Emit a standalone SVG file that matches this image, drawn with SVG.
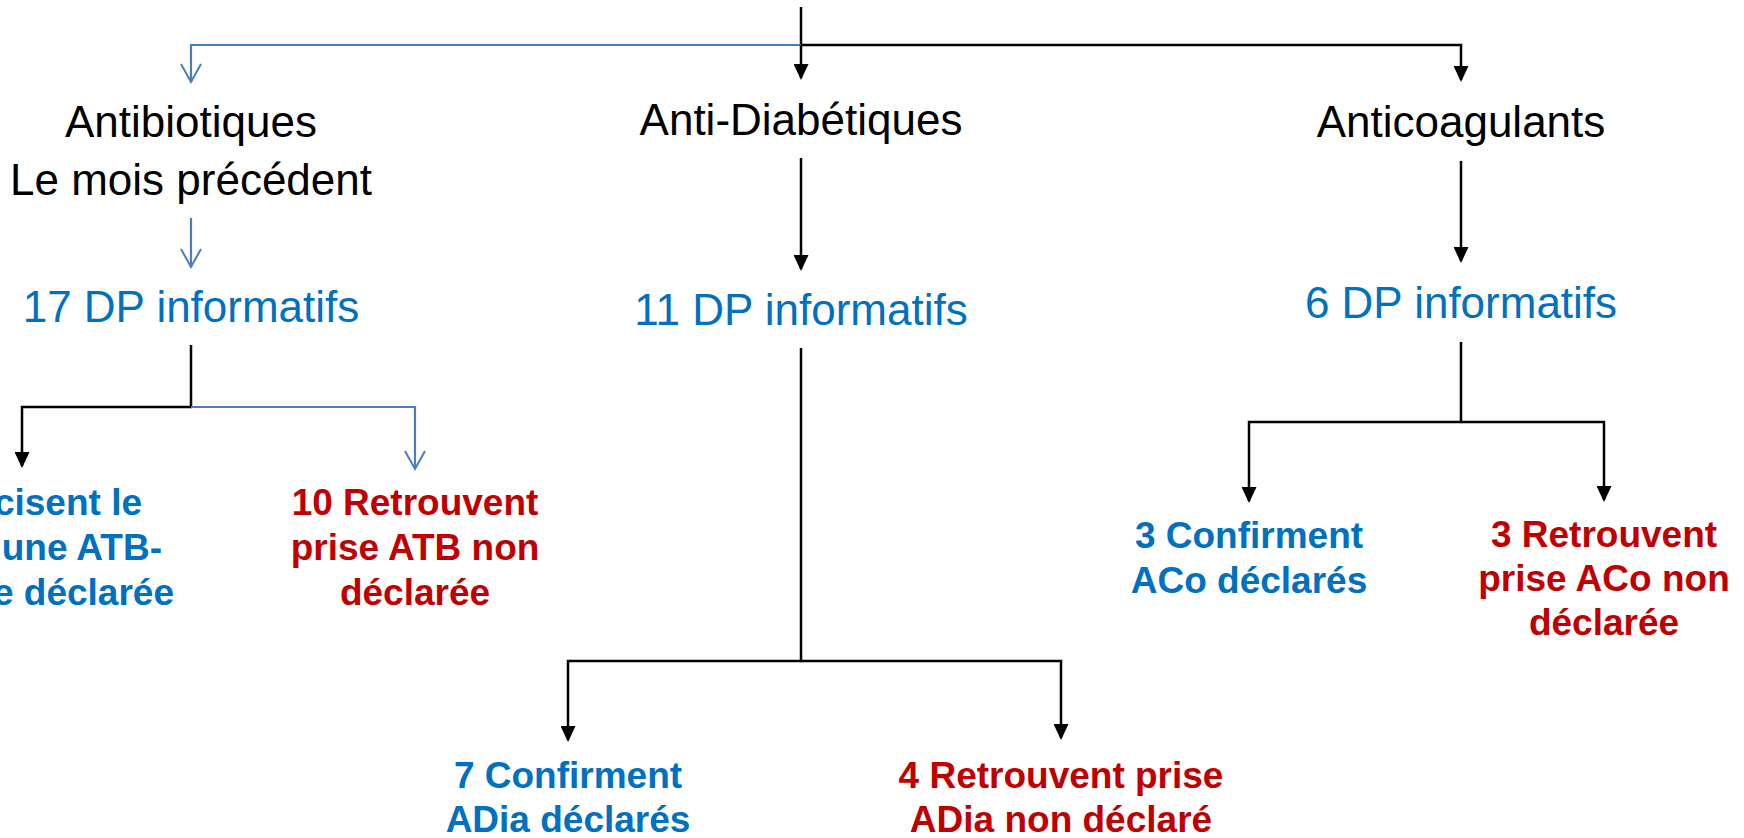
<svg xmlns="http://www.w3.org/2000/svg" width="1744" height="838" viewBox="0 0 1744 838">
<style>
.bg{fill:#ffffff}
.cat{font-family:"Liberation Sans",Arial,sans-serif;font-size:44px;fill:#000000;text-anchor:middle}
.dp{font-family:"Liberation Sans",Arial,sans-serif;font-size:44px;fill:#0070C0;text-anchor:middle}
.res{font-family:"Liberation Sans",Arial,sans-serif;font-size:37px;font-weight:bold;text-anchor:middle}
.blue{fill:#0070C0}
.red{fill:#C00000}
.k{fill:none;stroke:#000000;stroke-width:2.5}
.b{fill:none;stroke:#4A7EBB;stroke-width:2.2}
</style>
<defs>
<marker id="ah" markerUnits="userSpaceOnUse" markerWidth="17" markerHeight="15" refX="14" refY="7.5" orient="auto" viewBox="0 0 17 15">
<path d="M0,0 L16,7.5 L0,15 z" fill="#000000"/>
</marker>
<marker id="ov" markerUnits="userSpaceOnUse" markerWidth="22" markerHeight="24" refX="19" refY="11" orient="auto" viewBox="0 0 22 24">
<path d="M1,1 L19,11 L1,21" fill="none" stroke="#4A7EBB" stroke-width="2"/>
</marker>
</defs>
<rect class="bg" x="0" y="0" width="1744" height="838"/>
<g id="connectors">
<path class="k" d="M801,7 V45"/>
<path class="b" d="M801,45 H191 V82" marker-end="url(#ov)"/>
<path class="k" d="M801,45 V78" marker-end="url(#ah)"/>
<path class="k" d="M801,45 H1461 V80" marker-end="url(#ah)"/>
<path class="b" d="M191,218 V267" marker-end="url(#ov)"/>
<path class="k" d="M801,158 V269" marker-end="url(#ah)"/>
<path class="k" d="M1461,161 V261" marker-end="url(#ah)"/>
<path class="k" d="M191,345 V407 H22 V466" marker-end="url(#ah)"/>
<path class="b" d="M191,407 H415 V469" marker-end="url(#ov)"/>
<path class="k" d="M801,348 V661 H568 V740" marker-end="url(#ah)"/>
<path class="k" d="M801,661 H1061 V738" marker-end="url(#ah)"/>
<path class="k" d="M1461,342 V422 H1249 V501" marker-end="url(#ah)"/>
<path class="k" d="M1461,422 H1604 V500" marker-end="url(#ah)"/>
</g>
<g id="antibiotiques"><text class="cat" x="191" y="137">Antibiotiques</text><text class="cat" x="191" y="195">Le mois précédent</text></g>
<g id="antidiabetiques"><text class="cat" x="801" y="135">Anti-Diabétiques</text></g>
<g id="anticoagulants"><text class="cat" x="1461" y="137">Anticoagulants</text></g>
<g id="dp17"><text class="dp" x="191" y="322">17 DP informatifs</text></g>
<g id="dp11"><text class="dp" x="801" y="325">11 DP informatifs</text></g>
<g id="dp6"><text class="dp" x="1461" y="318">6 DP informatifs</text></g>
<g id="atb-declaree" class="res blue"><text x="142" y="515" style="text-anchor:end">cisent le</text><text x="162" y="560" style="text-anchor:end">’une ATB-</text><text x="174" y="605" style="text-anchor:end">e déclarée</text></g>
<g id="atb-non-declaree" class="res red"><text x="415" y="515">10 Retrouvent</text><text x="415" y="560">prise ATB non</text><text x="415" y="605">déclarée</text></g>
<g id="adia-declares" class="res blue"><text x="568" y="788">7 Confirment</text><text x="568" y="832">ADia déclarés</text></g>
<g id="adia-non-declare" class="res red"><text x="1061" y="788">4 Retrouvent prise</text><text x="1061" y="832">ADia non déclaré</text></g>
<g id="aco-declares" class="res blue"><text x="1249" y="548">3 Confirment</text><text x="1249" y="593">ACo déclarés</text></g>
<g id="aco-non-declaree" class="res red"><text x="1604" y="547">3 Retrouvent</text><text x="1604" y="591">prise ACo non</text><text x="1604" y="635">déclarée</text></g>
</svg>
